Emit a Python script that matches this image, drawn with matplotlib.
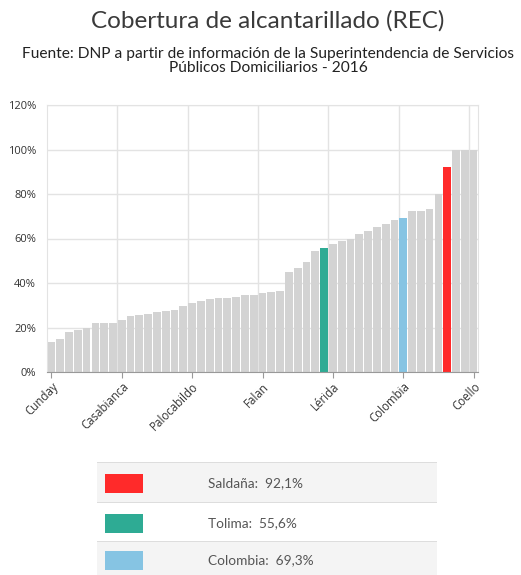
import numpy as np
import matplotlib.pyplot as plt
from matplotlib.patches import Rectangle

# Cobertura de alcantarillado (REC), Tolima 2016, ordenado de menor a mayor
cobertura = [13.6, 14.8, 17.8, 18.7, 19.6, 22.2, 22.2, 22.2, 23.4, 25.0,
             25.5, 25.9, 26.8, 27.3, 28.0, 29.7, 31.0, 31.8, 32.7, 33.1,
             33.1, 33.6, 34.8, 34.8, 35.7, 36.0, 36.5, 45.0, 46.8, 49.3,
             54.3, 55.6, 57.4, 58.9, 59.7, 61.9, 63.3, 65.1, 66.7, 68.4,
             69.3, 72.3, 72.3, 73.2, 80.1, 92.1, 100.0, 100.0, 100.0]

etiquetas = ['Cunday', 'Casabianca', 'Palocabildo', 'Falan', 'Lérida', 'Colombia', 'Coello']
pos_etiquetas = [0, 8, 16, 24, 32, 40, 48]

destacados = ['Saldaña', 'Tolima', 'Colombia']
idx_destacados = [45, 31, 40]
valores_destacados = ['92,1%', '55,6%', '69,3%']
colores_destacados = ['#ff2a2a', '#2eab94', '#86c4e3']

W, H = 521, 575
fig = plt.figure(figsize=(W / 100, H / 100), dpi=100)
fig.patch.set_facecolor('white')

fuente = ['Lato', 'DejaVu Sans']

fig.text(268 / W, 1 - 21 / H, 'Cobertura de alcantarillado (REC)', ha='center', va='center',
         fontsize=17.5, color='#3a3a3a', family=fuente)
fig.text(268 / W, 1 - 61 / H,
         'Fuente: DNP a partir de información de la Superintendencia de Servicios\nPúblicos Domiciliarios - 2016',
         ha='center', va='center', fontsize=11.2, color='#222222', family=fuente, linespacing=1.05)

ax = fig.add_axes([47 / W, 1 - 372 / H, (478 - 47) / W, (372 - 105) / H])

colores = ['#d3d3d3'] * len(cobertura)
for i, c in zip(idx_destacados, colores_destacados):
    colores[i] = c

x = np.arange(len(cobertura))
ax.bar(x, cobertura, width=0.88, color=colores, edgecolor='none', zorder=2)

ax.set_xlim(-0.5, len(cobertura) - 0.5)
ax.set_ylim(0, 120)
ax.set_yticks(range(0, 121, 20))
ax.set_yticklabels([f'{v}%' for v in range(0, 121, 20)])
ax.set_xticks(pos_etiquetas)
ax.set_xticklabels(etiquetas, rotation=45, ha='right', rotation_mode='anchor')

ax.grid(axis='y', color='#e3e3e3', linewidth=1, zorder=0)
for p in pos_etiquetas[1:]:
    ax.axvline(p - 0.5, color='#e3e3e3', linewidth=1, zorder=0)
ax.set_axisbelow(True)

for s in ['left', 'right', 'top']:
    ax.spines[s].set_color('#e3e3e3')
ax.spines['bottom'].set_color('#999999')
ax.spines['bottom'].set_zorder(3)
ax.tick_params(axis='y', length=0, labelsize=8, labelcolor='#333333', pad=8)
ax.tick_params(axis='x', length=4, color='#999999', labelsize=8.3, labelcolor='#333333', pad=2)
for lbl in ax.get_xticklabels() + ax.get_yticklabels():
    lbl.set_family(['Open Sans', 'DejaVu Sans'])

# tabla de leyenda
filas = [(463, 503), (503, 542), (542, 575)]
for k, (y0, y1) in enumerate(filas):
    fondo = '#f4f4f4' if k != 1 else 'white'
    fig.patches.append(Rectangle((97 / W, 1 - y1 / H), 340 / W, (y1 - y0) / H,
                                 transform=fig.transFigure, facecolor=fondo, edgecolor='none'))
    fig.patches.append(Rectangle((97 / W, 1 - y0 / H), 340 / W, 1.5 / H,
                                 transform=fig.transFigure, facecolor='#dddddd', edgecolor='none'))
    yc = (y0 + y1) / 2 + 0.5 if k != 2 else 560
    fig.patches.append(Rectangle((105 / W, 1 - (yc + 9.5) / H), 38 / W, 19 / H,
                                 transform=fig.transFigure, facecolor=colores_destacados[k],
                                 edgecolor='none'))
    fig.text(208 / W, 1 - yc / H, f'{destacados[k]}:  {valores_destacados[k]}', ha='left',
             va='center', fontsize=9.8, color='#555555', family=fuente)

fig.savefig('out.png', dpi=100)
